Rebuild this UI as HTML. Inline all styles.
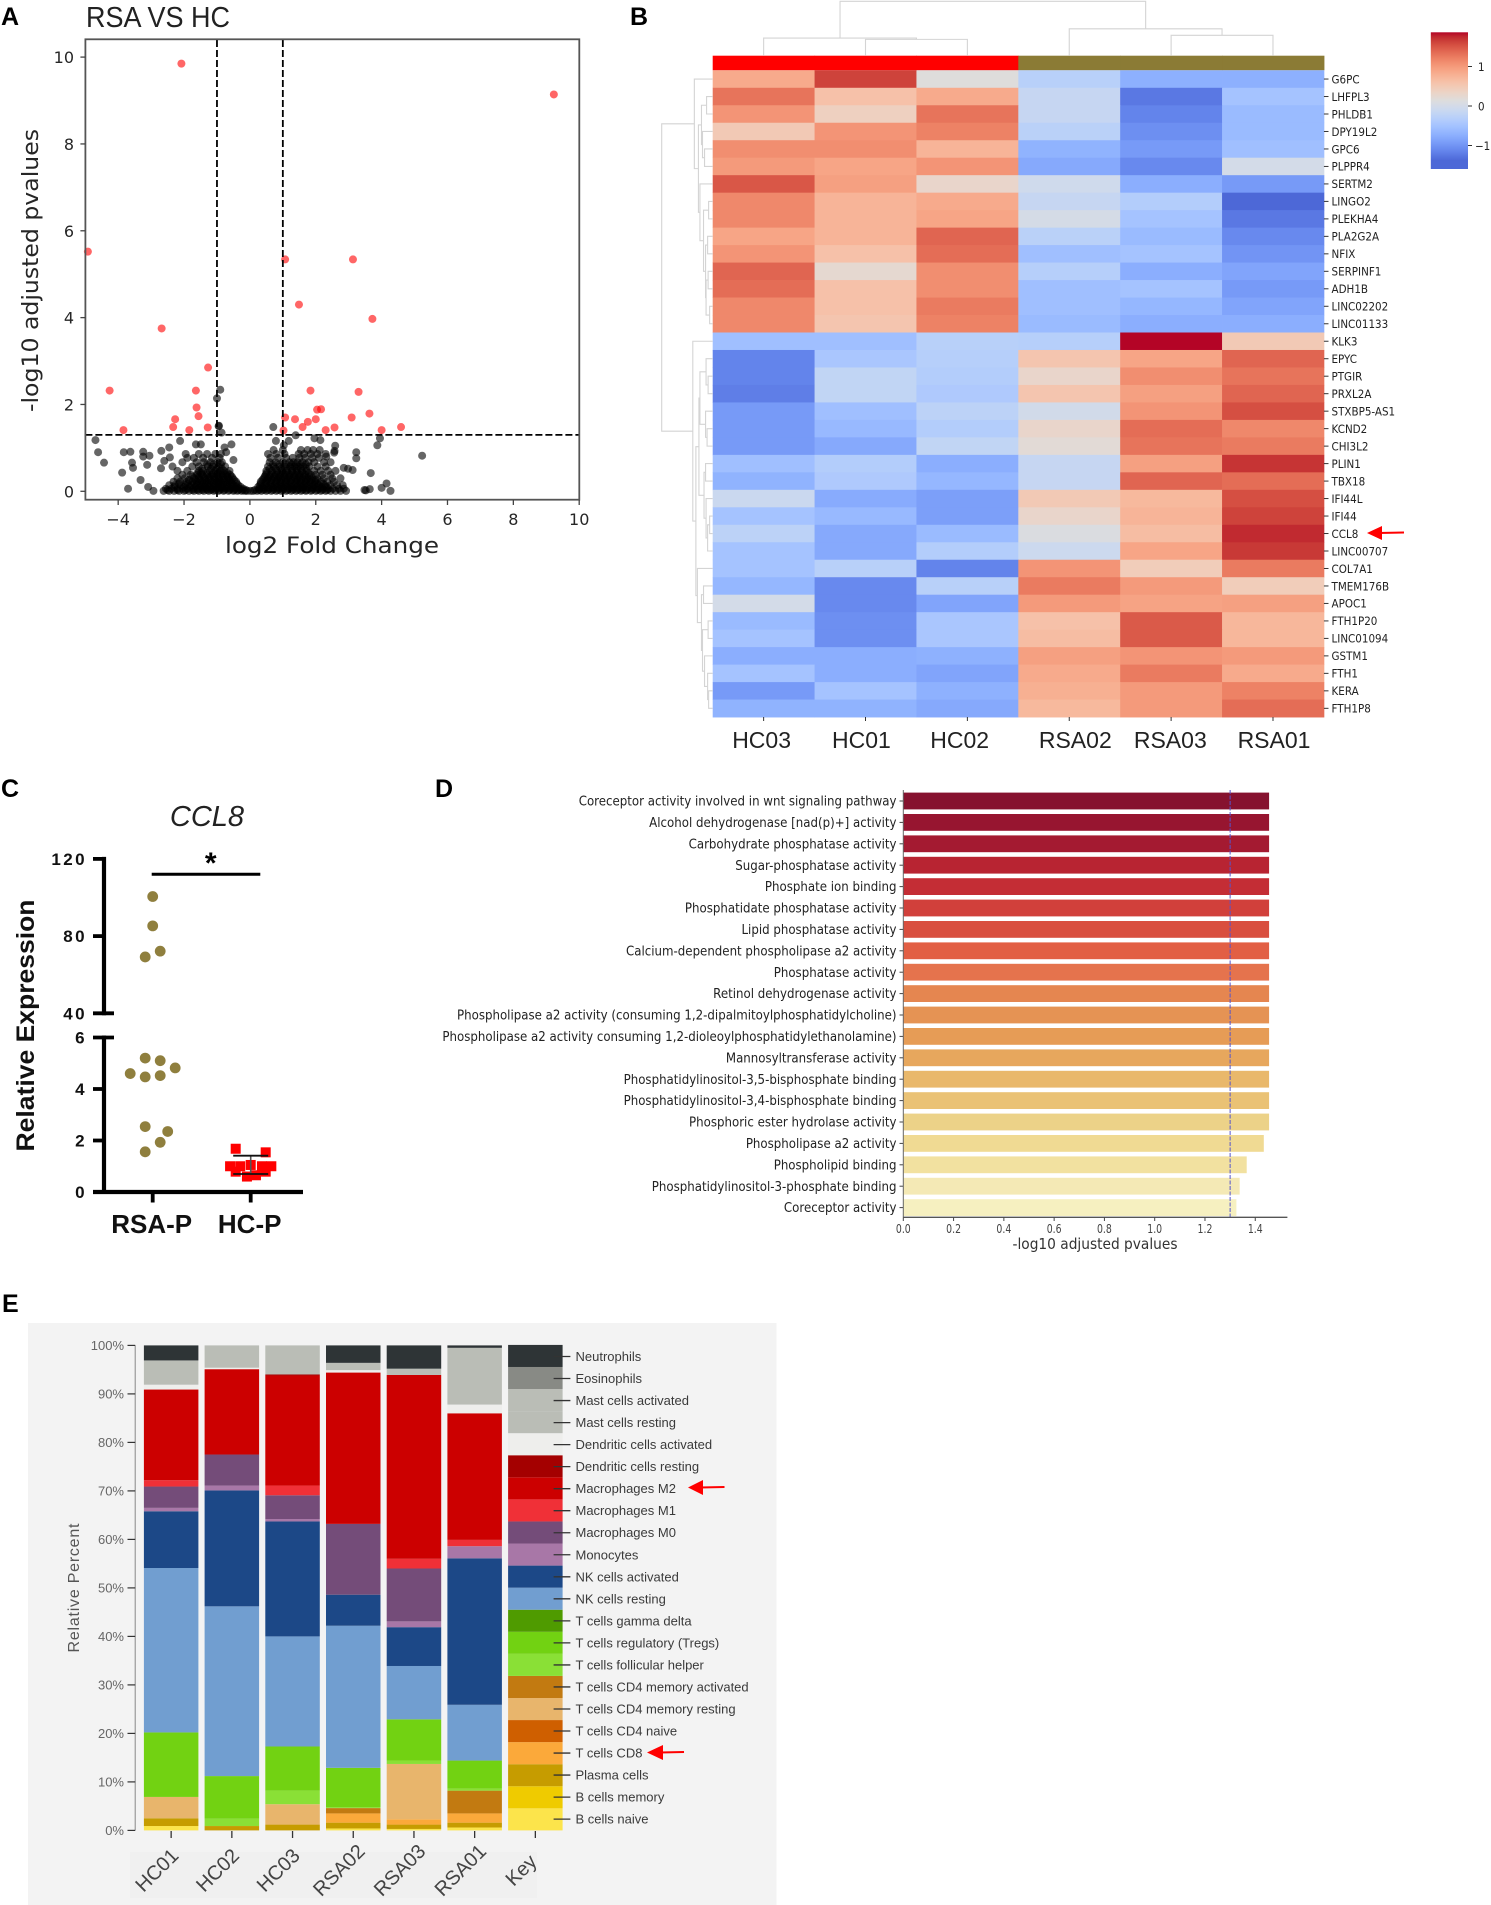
<!DOCTYPE html>
<html lang="en">
<head>
<meta charset="utf-8">
<title>RSA vs HC multi-panel figure</title>
<style>
html,body{margin:0;padding:0;background:#fff;}
svg{display:block;}
text{font-family:"Liberation Sans",sans-serif;}
.dv{font-family:"DejaVu Sans",sans-serif;}
.letter{font-family:"Liberation Sans",sans-serif;font-weight:700;font-size:25px;fill:#000;}
.collabel{font-size:23px;fill:#222;text-anchor:middle;}
</style>
</head>
<body>
<svg id="figure" xmlns="http://www.w3.org/2000/svg" width="1491" height="1905" viewBox="0 0 1491 1905">
  <rect x="0" y="0" width="1491" height="1905" fill="#ffffff"/>

  <!-- Panel A -->
  <g id="panelA">
    <text class="letter" x="1" y="25">A</text>
    <text x="86" y="27" font-size="29" fill="#222" textLength="144" lengthAdjust="spacingAndGlyphs">RSA VS HC</text>
    <text class="dv" x="332" y="553" font-size="22" fill="#262626" text-anchor="middle" textLength="214" lengthAdjust="spacingAndGlyphs">log2 Fold Change</text>
    <text class="dv" transform="translate(38,270.5) rotate(-90)" font-size="22" fill="#262626" text-anchor="middle" textLength="283" lengthAdjust="spacingAndGlyphs">-log10 adjusted pvalues</text>
  </g>

  <!-- Panel B -->
  <g id="panelB">
    <text class="letter" x="630" y="25">B</text>
    <text class="collabel" x="761.6" y="748">HC03</text>
    <text class="collabel" x="861.4" y="748">HC01</text>
    <text class="collabel" x="959.7" y="748">HC02</text>
    <text class="collabel" x="1075.3" y="748">RSA02</text>
    <text class="collabel" x="1170.3" y="748">RSA03</text>
    <text class="collabel" x="1274" y="748">RSA01</text>
    <g>
      <line x1="1378" y1="533" x2="1404" y2="532.5" stroke="#f00" stroke-width="2"/>
      <polygon points="1367,533 1382,526 1382,540" fill="#f00"/>
    </g>
  </g>

  <!-- Panel C -->
  <g id="panelC">
    <text class="letter" x="1" y="797">C</text>
    <text x="207" y="826" font-size="29" font-style="italic" fill="#222" text-anchor="middle">CCL8</text>
    <text transform="translate(34,1025.5) rotate(-90)" font-size="25" font-weight="700" fill="#111" text-anchor="middle" textLength="252" lengthAdjust="spacingAndGlyphs">Relative Expression</text>
    <line x1="151.7" y1="874.3" x2="260.3" y2="874.3" stroke="#000" stroke-width="3"/>
    <text x="210.7" y="873" font-size="30" font-weight="700" fill="#000" text-anchor="middle">*</text>
  </g>

  <!-- Panel D -->
  <g id="panelD">
    <text class="letter" x="435" y="797">D</text>
    <text class="dv" x="1095" y="1249" font-size="15" fill="#333" text-anchor="middle" textLength="165" lengthAdjust="spacingAndGlyphs">-log10 adjusted pvalues</text>
  </g>

  <!-- Panel E -->
  <g id="panelE">
    <text class="letter" x="2" y="1312">E</text>
    <rect x="28" y="1323" width="748.5" height="582" fill="#f3f3f3"/>
    <rect x="130" y="1852" width="407" height="46" fill="#f0f0f0"/>
    <text transform="translate(79,1588) rotate(-90)" font-size="16" fill="#555" text-anchor="middle" textLength="129">Relative Percent</text>
  </g>
  <g>
    <line x1="700" y1="1487.5" x2="724.5" y2="1487" stroke="#f00" stroke-width="2"/>
    <polygon points="688,1487.5 703,1480 703,1495" fill="#f00"/>
  </g>
  <g>
    <line x1="660" y1="1752.5" x2="684" y2="1752" stroke="#f00" stroke-width="2"/>
    <polygon points="647,1752.5 663,1745 663,1760" fill="#f00"/>
  </g>
</svg>

<script>
/* ---------- Panel A data ---------- */
const volcanoXTicks = [-4,-2,0,2,4,6,8,10];
const volcanoYTicks = [0,2,4,6,8,10];
const foldChangeCutoffs = [-1,1];
const pvalueCutoff = 1.3;
const significantPoints = [[-2.08,9.85],[9.23,9.14],[-4.92,5.52],[1.07,5.34],[3.13,5.34],[1.49,4.30],[3.72,3.97],[-2.68,3.75],[-1.27,2.85],[-4.26,2.32],[-1.64,2.32],[1.84,2.32],[3.30,2.29],[-1.62,1.93],[2.04,1.88],[2.16,1.89],[-1.56,1.73],[-2.27,1.66],[1.07,1.70],[1.37,1.66],[2.0,1.66],[3.09,1.70],[3.63,1.79],[1.76,1.60],[1.60,1.48],[2.57,1.47],[2.30,1.41],[4.59,1.48],[4.0,1.41],[-2.33,1.48],[-1.28,1.47],[-1.84,1.41],[-3.84,1.41],[1.02,1.40]];
const sparsePoints = [[-0.9,2.34],[-1.0,2.14],[-0.94,1.51],[-0.95,1.5],[-0.86,1.35],[0.71,1.48],[-4.69,1.18],[-4.61,0.9],[-4.43,0.66],[-3.83,0.9],[-3.63,0.91],[-3.24,0.91],[-3.05,0.82],[-3.24,0.8],[-3.58,0.66],[-3.55,0.54],[-3.88,0.43],[-3.12,0.61],[-3.32,0.26],[-3.7,0.06],[-3.09,0.1],[-2.93,0.01],[-2.69,0.93],[-2.45,1.01],[-2.12,1.16],[-2.43,0.78],[-2.6,0.7],[-2.7,0.53],[-1.64,1.08],[-1.49,1.08],[-0.77,1.01],[-0.56,1.08],[-0.72,0.9],[-0.5,0.72],[5.23,0.82],[3.95,1.22],[3.87,1.06],[3.23,0.9],[3.23,0.76],[3.67,0.42],[4.0,0.08],[4.15,0.18],[4.27,0.01],[3.64,0.05],[3.48,0.03],[3.52,0.02],[3.12,0.49],[2.98,0.52],[2.85,0.54],[2.57,0.93],[2.59,1.05],[2.56,0.89],[2.32,0.8],[2.14,1.18],[1.96,1.22],[1.39,1.29],[1.18,1.16],[1.03,1.06],[0.79,1.16]];
const cloudRowLevels = [0.01,0.03,0.06,0.10,0.14,0.18,0.22,0.26,0.30,0.34,0.38,0.42,0.47,0.52,0.57,0.62,0.67,0.77,0.86,0.95];
const cloudRowFoldChanges = [
 [-2.62,-2.45,-2.3,-2.15,-2.0,-1.85,-1.7,-1.55,-1.4,-1.25,-1.1,-0.95,-0.8,-0.65,-0.5,-0.38,-0.25,-0.15,-0.08,0.02,0.1,0.22,0.35,0.5,0.65,0.8,0.95,1.1,1.25,1.4,1.55,1.7,1.85,2.0,2.15,2.3,2.45,2.6,2.75,2.92],
 [-2.5,-2.2,-1.95,-1.75,-1.6,-1.45,-1.3,-1.18,-1.05,-0.92,-0.78,-0.62,-0.48,-0.35,-0.22,-0.12,0.15,0.28,0.42,0.55,0.7,0.85,1.0,1.15,1.3,1.45,1.6,1.72,1.88,2.05,2.2,2.35],
 [-2.55,-2.38,-2.2,-2.05,-1.9,-1.72,-1.58,-1.42,-1.3,-1.15,-1.0,-0.85,-0.72,-0.58,-0.45,-0.32,-0.2,0.28,0.42,0.58,0.72,0.88,1.02,1.18,1.32,1.48,1.62,1.78,1.92,2.08,2.22,2.38,2.52,2.7,2.85],
 [-2.3,-2.0,-1.82,-1.65,-1.5,-1.38,-1.25,-1.12,-0.98,-0.85,-0.7,-0.55,-0.4,-0.28,0.25,0.38,0.52,0.68,0.82,0.97,1.12,1.27,1.42,1.58,1.72,1.88,2.02,2.18,2.32],
 [-2.45,-2.28,-2.1,-1.95,-1.78,-1.62,-1.48,-1.35,-1.2,-1.05,-0.9,-0.78,-0.62,-0.5,-0.35,0.3,0.45,0.6,0.75,0.9,1.05,1.2,1.35,1.5,1.65,1.8,1.95,2.1,2.28,2.45,2.65,2.82],
 [-2.15,-1.88,-1.7,-1.55,-1.4,-1.25,-1.1,-0.95,-0.82,-0.68,-0.55,-0.4,0.33,0.5,0.66,0.82,0.98,1.12,1.28,1.44,1.58,1.72,1.9,2.05,2.22],
 [-2.32,-2.12,-1.92,-1.75,-1.6,-1.45,-1.3,-1.15,-1,-0.88,-0.72,-0.58,-0.42,0.33,0.48,0.62,0.78,0.92,1.08,1.22,1.38,1.52,1.68,1.82,1.98,2.15,2.35,2.55],
 [-1.85,-1.65,-1.5,-1.35,-1.2,-1.05,-0.92,-0.78,-0.62,-0.48,0.38,0.52,0.66,0.82,0.95,1.1,1.25,1.42,1.55,1.7,1.85,2.0],
 [-2.2,-1.98,-1.7,-1.55,-1.38,-1.25,-1.08,-0.95,-0.8,-0.66,-0.52,0.42,0.55,0.7,0.85,1,1.15,1.3,1.45,1.6,1.75,1.9,2.05,2.25,2.5,2.75],
 [-1.75,-1.55,-1.4,-1.22,-1.1,-0.95,-0.82,-0.68,-0.55,0.45,0.6,0.75,0.9,1.05,1.2,1.35,1.5,1.65,1.8],
 [-2.05,-1.8,-1.6,-1.45,-1.3,-1.15,-1,-0.85,-0.72,-0.6,0.48,0.62,0.78,0.92,1.08,1.22,1.38,1.52,1.68,1.85,2.0,2.2,2.45],
 [-1.6,-1.48,-1.3,-1.12,-0.98,-0.82,-0.68,0.5,0.68,0.85,1.0,1.15,1.3,1.45,1.6,1.78],
 [-2.2,-1.9,-1.55,-1.42,-1.22,-1.05,-0.9,-0.78,-0.62,0.5,0.66,0.82,0.98,1.12,1.28,1.42,1.58,1.72,1.95,2.15,2.38,2.6],
 [-1.45,-1.18,-1.0,-0.85,0.6,0.78,0.95,1.12,1.28,1.42,1.55,1.72],
 [-2.35,-1.75,-1.55,-1.28,-1.12,-0.95,-0.75,0.55,0.72,0.9,1.05,1.22,1.35,1.48,1.62,1.8,2.05,2.3],
 [-1.3,-1.1,-0.88,0.7,0.9,1.1,1.25,1.4,1.55,1.7],
 [-2.05,-1.62,-1.4,-1.2,-0.98,-0.85,0.6,0.78,1.0,1.2,1.32,1.45,1.6,1.78,1.95,2.25,2.45],
 [-1.9,-1.7,-1.42,-1.15,-0.92,0.62,0.85,1.1,1.3,1.5,1.68,1.9,2.1],
 [-1.95,-1.55,-1.3,-1.05,-0.88,0.55,0.8,1.05,1.48,1.65,1.85,2.05,2.3],
 [0.72,1.0,1.55,1.75,1.92,2.12]
];

/* ---------- Panel B data ---------- */
const heatGenes = ['G6PC','LHFPL3','PHLDB1','DPY19L2','GPC6','PLPPR4','SERTM2','LINGO2','PLEKHA4','PLA2G2A','NFIX','SERPINF1','ADH1B','LINC02202','LINC01133','KLK3','EPYC','PTGIR','PRXL2A','STXBP5-AS1','KCND2','CHI3L2','PLIN1','TBX18','IFI44L','IFI44','CCL8','LINC00707','COL7A1','TMEM176B','APOC1','FTH1P20','LINC01094','GSTM1','FTH1','KERA','FTH1P8'];
const heatSamples = ['HC03','HC01','HC02','RSA02','RSA03','RSA01'];
const heatValues = [
 [0.85,1.62,0.15,-0.3,-0.73,-0.73],
 [1.3,0.6,0.85,-0.15,-1.25,-0.5],
 [1.05,0.4,1.3,-0.15,-1.15,-0.6],
 [0.5,1.05,1.2,-0.28,-1.05,-0.6],
 [1.1,1.1,0.75,-0.7,-0.95,-0.55],
 [1.0,0.9,1.05,-0.8,-1.1,0.0],
 [1.5,0.95,0.3,-0.05,-0.75,-0.95],
 [1.15,0.75,0.85,-0.15,-0.35,-1.38],
 [1.15,0.75,0.9,0.02,-0.5,-1.25],
 [0.9,0.75,1.4,-0.28,-0.6,-1.1],
 [1.05,0.6,1.35,-0.55,-0.5,-1.0],
 [1.4,0.25,1.1,-0.32,-0.75,-0.85],
 [1.35,0.6,1.1,-0.55,-0.5,-0.95],
 [1.15,0.6,1.25,-0.55,-0.65,-0.85],
 [1.15,0.55,1.2,-0.6,-0.75,-0.75],
 [-0.55,-0.55,-0.3,-0.32,1.87,0.5],
 [-1.15,-0.45,-0.32,0.55,0.9,1.4],
 [-1.15,-0.2,-0.35,0.3,1.1,1.3],
 [-1.2,-0.2,-0.4,0.55,0.95,1.4],
 [-0.95,-0.55,-0.25,-0.02,1.05,1.55],
 [-0.95,-0.62,-0.35,0.3,1.35,1.15],
 [-0.95,-0.8,-0.2,0.2,1.3,1.25],
 [-0.55,-0.35,-0.75,-0.15,0.95,1.7],
 [-0.7,-0.4,-0.65,-0.15,1.4,1.35],
 [-0.1,-0.78,-0.9,0.5,0.7,1.55],
 [-0.5,-0.62,-0.9,0.3,0.75,1.62],
 [-0.25,-0.8,-0.6,0.1,0.65,1.75],
 [-0.5,-0.8,-0.35,-0.08,0.9,1.68],
 [-0.5,-0.3,-1.15,1.05,0.45,1.25],
 [-0.65,-1.1,-0.3,1.25,1.0,0.45],
 [0.0,-1.1,-0.85,1.0,0.92,0.95],
 [-0.6,-1.05,-0.45,0.6,1.48,0.72],
 [-0.5,-1.05,-0.45,0.65,1.48,0.72],
 [-0.75,-0.75,-0.72,0.95,1.05,1.0],
 [-0.5,-0.75,-0.85,0.85,1.25,0.85],
 [-0.95,-0.5,-0.72,0.8,1.0,1.2],
 [-0.7,-0.7,-0.8,0.7,1.0,1.35]
];
const colorbarTicks = [-1,0,1];
const colorbarTickLabels = ['\u22121','0','1'];
const sampleGroups = ['#ff0000','#ff0000','#ff0000','#8b7b35','#8b7b35','#8b7b35'];
/* Dendrograms: [merge height, childA, childB]; numbers are leaf indices */
const columnTree = [1,[0.325,0,[0.30,1,2]],[0.495,3,[0.375,4,5]]];
const rowTree = [1,
 [0.36,0,[0.28,[0.22,[0.12,1,2],[0.2,3,[0.16,4,5]]],[0.25,6,[0.18,[0.08,7,8],[0.14,[0.1,9,10],[0.13,[0.09,11,12],[0.06,13,14]]]]]]],
 [0.39,15,[0.33,[0.27,[0.25,[0.13,16,[0.09,17,18]],[0.14,19,[0.11,20,21]]],[0.17,[0.14,22,23],[0.13,24,[0.1,[0.06,25,26],27]]]],[0.3,28,[0.22,[0.18,29,30],[0.2,[0.09,31,32],[0.16,33,[0.1,34,[0.08,35,36]]]]]]]]
];
const coolwarmStops = [[59,76,192],[68,90,204],[77,104,215],[87,117,225],[98,130,234],[108,142,241],[119,154,247],[130,165,251],[141,176,254],[152,185,255],[163,194,255],[174,201,253],[184,208,249],[194,213,244],[204,217,238],[213,219,230],[221,221,221],[229,216,209],[236,211,197],[241,204,185],[245,196,173],[247,187,160],[247,177,148],[247,166,135],[244,154,123],[241,141,111],[236,127,99],[229,112,88],[222,96,77],[213,80,66],[203,62,56],[192,40,47],[180,4,38]];

/* ---------- Panel C data ---------- */
const expressionTicks = [0,2,4,6,40,80,120];
const rsaExpression = [100.5,85.3,72.2,69.2,5.2,5.1,4.82,4.6,4.47,4.52,2.54,2.35,1.93,1.56];
const rsaJitter = [0,0,1,-1,-1,1,3,-3,-1,1,-1,2,1,-1];
const hcExpression = [1.68,1.54,1.0,1.0,1.05,1.0,1.0,0.79,0.79,0.6,0.65];
const hcJitter = [-2,2,-2.75,-1.4,0,1.5,2.75,-2,2,-0.5,0.7];
const hcErrorBar = [0.7,1.41];
const expressionGroups = ['RSA-P','HC-P'];

/* ---------- Panel D data ---------- */
const termNames = ['Coreceptor activity involved in wnt signaling pathway','Alcohol dehydrogenase [nad(p)+] activity','Carbohydrate phosphatase activity','Sugar-phosphatase activity','Phosphate ion binding','Phosphatidate phosphatase activity','Lipid phosphatase activity','Calcium-dependent phospholipase a2 activity','Phosphatase activity','Retinol dehydrogenase activity','Phospholipase a2 activity (consuming 1,2-dipalmitoylphosphatidylcholine)','Phospholipase a2 activity consuming 1,2-dioleoylphosphatidylethanolamine)','Mannosyltransferase activity','Phosphatidylinositol-3,5-bisphosphate binding','Phosphatidylinositol-3,4-bisphosphate binding','Phosphoric ester hydrolase activity','Phospholipase a2 activity','Phospholipid binding','Phosphatidylinositol-3-phosphate binding','Coreceptor activity'];
const termValues = [1.455,1.455,1.455,1.455,1.455,1.455,1.455,1.455,1.455,1.455,1.455,1.455,1.455,1.455,1.455,1.455,1.434,1.366,1.338,1.325];
const termColors = ['#86122f','#971530','#a41a31','#b82432','#c42d35','#d1403b','#d94f3f','#e25f44','#e5734d','#e58650','#e59354','#e69c56','#e7a75d','#e9b86b','#eac275','#ecd288','#f0da93','#f2e1a0','#f4e9b5','#f6f0c0'];
const termTicks = [0,0.2,0.4,0.6,0.8,1.0,1.2,1.4];
const termCutoff = 1.3;

/* ---------- Panel E data ---------- */
const cellTypes = ['B cells naive','B cells memory','Plasma cells','T cells CD8','T cells CD4 naive','T cells CD4 memory resting','T cells CD4 memory activated','T cells follicular helper','T cells regulatory (Tregs)','T cells gamma delta','NK cells resting','NK cells activated','Monocytes','Macrophages M0','Macrophages M1','Macrophages M2','Dendritic cells resting','Dendritic cells activated','Mast cells resting','Mast cells activated','Eosinophils','Neutrophils'];
const cellColors = ['#fce44b','#efcb00','#c69c00','#fba93a','#cf5f00','#e8b56c','#c27a11','#8ae036','#72d212','#4f9b00','#719ed0','#1c4887','#a877a7','#744c79','#f03037','#cc0000','#a40000','#eeeeec','#babdb6','#babdb6','#888a85','#2e3436'];
const stackSamples = ['HC01','HC02','HC03','RSA02','RSA03','RSA01','Key'];
const fractionHC01 = [0.9,0,1.6,0,0,4.4,0,0,13.3,0,33.9,11.7,0.7,4.4,1.3,18.7,0,1.0,5.0,0,0,3.1];
const fractionHC02 = [0,0,0.9,0,0,0,0,1.5,8.8,0,35,23.9,1.0,6.4,0,17.6,0,0.3,4.6,0,0,0];
const fractionHC03 = [0,0,1.2,0,0,4.2,0,2.8,9.1,0,22.7,23.7,0.5,4.9,2.0,22.7,0.2,0,6.0,0,0,0];
const fractionRSA02 = [0.4,0,1.2,1.9,0,0,1.1,0.2,8.1,0,29.3,6.4,0,14.6,0,31.2,0,0.5,1.5,0,0,3.6];
const fractionRSA03 = [0.3,0,0.9,1.1,0,11.4,0,0.7,8.5,0,11,8,1.2,10.9,2.0,37.9,0,0,1.3,0,0,4.8];
const fractionRSA01 = [0.6,0,1.0,1.9,0,0,4.7,0.4,5.8,0,11.5,30.2,2.5,0,1.3,26.1,0,1.8,11.7,0,0,0.5];
const fractionKey = [4.55,4.55,4.55,4.55,4.55,4.55,4.55,4.55,4.55,4.55,4.55,4.55,4.55,4.55,4.55,4.55,4.55,4.55,4.55,4.55,4.55,4.55];
const percentTicks = [0,10,20,30,40,50,60,70,80,90,100];

/* ---------- Helpers ---------- */
const NS = 'http://www.w3.org/2000/svg';
function mk(parent, tag, attrs, text) {
  const el = document.createElementNS(NS, tag);
  for (const k in attrs) el.setAttribute(k, attrs[k]);
  if (text !== undefined) el.textContent = text;
  parent.appendChild(el);
  return el;
}
const svg = document.getElementById('figure');
const pA = document.getElementById('panelA');
const pB = document.getElementById('panelB');
const pC = document.getElementById('panelC');
const pD = document.getElementById('panelD');
const pE = document.getElementById('panelE');
const DV = '"DejaVu Sans",sans-serif';

/* ---------- Panel A ---------- */
const xA = v => 249.9 + v * 32.93;
const yA = v => 491.3 - v * 43.42;
sparsePoints.forEach(p => {
  const dot = mk(pA, 'circle', {cx: xA(p[0]), cy: yA(p[1]), r: 4, fill: '#000', 'fill-opacity': 0.6});
  
  
});
cloudRowLevels.forEach((level, r) => {
  cloudRowFoldChanges[r].forEach(fc => {
    const dot = mk(pA, 'circle', {cx: xA(fc), cy: yA(level), r: 4, fill: '#000', 'fill-opacity': 0.6});
    
    
  });
});
significantPoints.forEach(p => {
  const dot = mk(pA, 'circle', {cx: xA(p[0]), cy: yA(p[1]), r: 4, fill: '#ff0000', 'fill-opacity': 0.6});
  
  
});
foldChangeCutoffs.forEach(c => {
  const cutLine = mk(pA, 'line', {x1: xA(c), x2: xA(c), y1: 40, y2: 500, stroke: '#000', 'stroke-width': 1.8, 'stroke-dasharray': '7 3'});
  
  
});
const pLine = mk(pA, 'line', {x1: 85.4, x2: 579.3, y1: yA(pvalueCutoff), y2: yA(pvalueCutoff), stroke: '#000', 'stroke-width': 1.8, 'stroke-dasharray': '7 3'});


const frameA = mk(pA, 'rect', {x: 85.4, y: 39.3, width: 493.9, height: 460.4, fill: 'none', stroke: '#555', 'stroke-width': 1.8});


volcanoXTicks.forEach(t => {
  const tick = mk(pA, 'line', {x1: xA(t), x2: xA(t), y1: 500, y2: 505, stroke: '#444', 'stroke-width': 1.3});
  
  
  const label = mk(pA, 'text', {x: xA(t), y: 525, 'font-size': 16, fill: '#262626', 'text-anchor': 'middle', style: 'font-family:' + DV}, String(t).replace('-', '\u2212'));
  
  
});
volcanoYTicks.forEach(t => {
  const tick = mk(pA, 'line', {x1: 80.4, x2: 85.4, y1: yA(t), y2: yA(t), stroke: '#444', 'stroke-width': 1.3});
  
  
  const label = mk(pA, 'text', {x: 74, y: yA(t) + 6, 'font-size': 16, fill: '#262626', 'text-anchor': 'end', style: 'font-family:' + DV}, String(t));
  
  
});

/* ---------- Panel B ---------- */
const heatLeft = 712.7, cellW = 101.87, heatTop = 70.3, cellH = 17.48;
const xH = i => heatLeft + i * cellW;
const yH = i => heatTop + i * cellH;
const coolwarm = z => {
  const t = Math.max(0, Math.min(1, (z + 1.6) / 3.47)) * (coolwarmStops.length - 1);
  const i = Math.min(Math.floor(t), coolwarmStops.length - 2), f = t - i;
  const c = coolwarmStops[i].map((v, k) => Math.round(v + (coolwarmStops[i + 1][k] - v) * f));
  return 'rgb(' + c.join(',') + ')';
};
sampleGroups.forEach((color, i) => {
  const strip = mk(pB, 'rect', {x: xH(i), y: 55.7, width: cellW + 0.5, height: 14.6, fill: color});
  
  
});
heatValues.forEach((row, r) => {
  row.forEach((z, c) => {
    const cell = mk(pB, 'rect', {x: xH(c), y: yH(r), width: cellW + 0.4, height: cellH + 0.4, fill: coolwarm(z)});
    
    
  });
  const tick = mk(pB, 'line', {x1: 1323.9, x2: 1328.5, y1: yH(r) + cellH / 2, y2: yH(r) + cellH / 2, stroke: '#333', 'stroke-width': 1});
  
  
  const label = mk(pB, 'text', {transform: 'translate(1331.5,' + (yH(r) + cellH / 2 + 4.3) + ') scale(0.9,1)', 'font-size': 11.5, fill: '#222', style: 'font-family:' + DV}, heatGenes[r]);
  
  
});
heatSamples.forEach((s, i) => {
  const tick = mk(pB, 'line', {x1: xH(i) + cellW / 2, x2: xH(i) + cellW / 2, y1: 717, y2: 721, stroke: '#333', 'stroke-width': 1});
  
  
});
function drawTree(node, horizontal, leafPos, heightPos) {
  if (typeof node === 'number') return {p: leafPos(node), h: 0};
  const a = drawTree(node[1], horizontal, leafPos, heightPos);
  const b = drawTree(node[2], horizontal, leafPos, heightPos);
  const hN = heightPos(node[0]), hA = heightPos(a.h), hB = heightPos(b.h);
  const d = horizontal
    ? 'M' + a.p + ' ' + hA + 'V' + hN + 'H' + b.p + 'V' + hB
    : 'M' + hA + ' ' + a.p + 'H' + hN + 'V' + b.p + 'H' + hB;
  const link = mk(pB, 'path', {d: d, fill: 'none', stroke: '#d4d4d4', 'stroke-width': 1.1});
  
  
  return {p: (a.p + b.p) / 2, h: node[0]};
}
drawTree(columnTree, true, i => xH(i) + cellW / 2, h => 55.7 - h * 54.4);
drawTree(rowTree, false, i => yH(i) + cellH / 2, h => 712.7 - h * 51);
const cbar = mk(svg, 'linearGradient', {id: 'coolwarmGradient', x1: 0, y1: 1, x2: 0, y2: 0});


coolwarmStops.forEach((c, i) => {
  const shown = i < 2 ? coolwarmStops[2] : c;
  const stop = mk(cbar, 'stop', {offset: i / (coolwarmStops.length - 1), 'stop-color': 'rgb(' + shown.join(',') + ')'});
  
  
});
const cbarRect = mk(pB, 'rect', {x: 1430.8, y: 32.3, width: 37.2, height: 136.7, fill: 'url(#coolwarmGradient)'});


const yCb = v => 106 - v * 39.5;
colorbarTicks.forEach((t, i) => {
  const tick = mk(pB, 'line', {x1: 1468, x2: 1472, y1: yCb(t), y2: yCb(t), stroke: '#333', 'stroke-width': 1});
  
  
  const label = mk(pB, 'text', {transform: 'translate(' + (t < 0 ? 1475 : 1478) + ',' + (yCb(t) + 4.5) + ') scale(0.9,1)', 'font-size': 11.5, fill: '#222', style: 'font-family:' + DV}, colorbarTickLabels[i]);
  
  
});

/* ---------- Panel C ---------- */
const yC = v => v <= 6 ? 1192 - v * 25.75 : 1013.3 - (v - 40) * 1.93;
const xC = [152.7, 250.7];
const JIT = 7.5;
const axisSegments = [[120, 40], [6, 0]];
axisSegments.forEach(seg => {
  const axis = mk(pC, 'line', {x1: 104, x2: 104, y1: yC(seg[0]) - 2, y2: yC(seg[1]) + 2, stroke: '#000', 'stroke-width': 4.2});
  
  
});
const baseC = mk(pC, 'line', {x1: 93, x2: 303, y1: yC(0), y2: yC(0), stroke: '#000', 'stroke-width': 4.2});


expressionTicks.forEach(t => {
  const brk = t === 6 || t === 40;
  const tick = mk(pC, 'line', {x1: 93, x2: brk ? 114 : 104, y1: yC(t), y2: yC(t), stroke: '#000', 'stroke-width': 3.8});
  
  
  const label = mk(pC, 'text', {x: 87, y: yC(t) + 6, 'font-size': 17, 'font-weight': 700, fill: '#111', 'text-anchor': 'end', 'letter-spacing': 2.4}, String(t));
  
  
});
expressionGroups.forEach((g, i) => {
  const tick = mk(pC, 'line', {x1: xC[i], x2: xC[i], y1: yC(0), y2: 1202.5, stroke: '#000', 'stroke-width': 3.8});
  
  
  const label = mk(pC, 'text', {x: xC[i] - 1, y: 1233, 'font-size': 26, 'font-weight': 700, fill: '#111', 'text-anchor': 'middle'}, g);
  
  
});
rsaExpression.forEach((v, i) => {
  const dot = mk(pC, 'circle', {cx: xC[0] + rsaJitter[i] * JIT, cy: yC(v), r: 5.4, fill: '#8f7f3e'});
  
  
});
hcExpression.forEach((v, i) => {
  const sq = mk(pC, 'rect', {x: xC[1] + hcJitter[i] * JIT - 5, y: yC(v) - 5, width: 10, height: 10, fill: '#ff0000'});
  
  
});
const errStem = mk(pC, 'line', {x1: xC[1], x2: xC[1], y1: yC(hcErrorBar[0]), y2: yC(hcErrorBar[1]), stroke: '#555', 'stroke-width': 1.6});


hcErrorBar.forEach(v => {
  const cap = mk(pC, 'line', {x1: xC[1] - 17.5, x2: xC[1] + 17.5, y1: yC(v), y2: yC(v), stroke: '#111', 'stroke-width': 1.8});
  
  
});

/* ---------- Panel D ---------- */
const xD = v => 903.3 + v * 251.4;
const yD = i => 801 + i * 21.4;
termValues.forEach((v, i) => {
  const bar = mk(pD, 'rect', {x: xD(0), y: yD(i) - 8.4, width: xD(v) - xD(0), height: 16.8, fill: termColors[i]});
  
  
  const tick = mk(pD, 'line', {x1: 899.5, x2: 903.3, y1: yD(i), y2: yD(i), stroke: '#444', 'stroke-width': 1});
  
  
  const label = mk(pD, 'text', {transform: 'translate(896.5,' + (yD(i) + 4.6) + ') scale(0.91,1)', 'font-size': 13, fill: '#222', 'text-anchor': 'end', style: 'font-family:' + DV}, termNames[i]);
  
  
});
const cutD = mk(pD, 'line', {x1: xD(termCutoff), x2: xD(termCutoff), y1: 790, y2: 1217, stroke: '#5555cc', 'stroke-width': 1, 'stroke-dasharray': '4 1.5'});


const axDy = mk(pD, 'line', {x1: xD(0), x2: xD(0), y1: 790, y2: 1217.3, stroke: '#666', 'stroke-width': 1});


const axDx = mk(pD, 'line', {x1: xD(0), x2: 1287.4, y1: 1217.3, y2: 1217.3, stroke: '#555', 'stroke-width': 1.3});


termTicks.forEach(t => {
  const tick = mk(pD, 'line', {x1: xD(t), x2: xD(t), y1: 1217.3, y2: 1221, stroke: '#444', 'stroke-width': 1});
  
  
  const label = mk(pD, 'text', {transform: 'translate(' + xD(t) + ',1233) scale(0.78,1)', 'font-size': 12, fill: '#444', 'text-anchor': 'middle', style: 'font-family:' + DV}, t.toFixed(1));
  
  
});

/* ---------- Panel E ---------- */
const yE = v => 1830.4 - v * 4.85;
const xE = i => 143.9 + i * 60.7;
const barWidthE = 54.5;
const stackData = [fractionHC01, fractionHC02, fractionHC03, fractionRSA02, fractionRSA03, fractionRSA01, fractionKey];
stackData.forEach((fractions, s) => {
  let total = 0;
  fractions.forEach((v, c) => {
    if (v > 0) {
      const seg = mk(pE, 'rect', {x: xE(s), y: yE(total + v), width: barWidthE, height: yE(total) - yE(total + v), fill: cellColors[c]});
      
      
    }
    total += v;
  });
  const tick = mk(pE, 'line', {x1: xE(s) + barWidthE / 2, x2: xE(s) + barWidthE / 2, y1: 1831, y2: 1838, stroke: '#333', 'stroke-width': 1.3});
  
  
  const label = mk(pE, 'text', {transform: 'translate(' + (xE(s) + barWidthE / 2 - 14.5) + ',1870) rotate(-45)', dy: '0.35em', 'font-size': 20, fill: '#444', 'text-anchor': 'middle'}, stackSamples[s]);
  
  
});
const axE = mk(pE, 'line', {x1: 135.2, x2: 135.2, y1: yE(100), y2: yE(0), stroke: '#888', 'stroke-width': 1});


percentTicks.forEach(t => {
  const tick = mk(pE, 'line', {x1: 127.5, x2: 135.2, y1: yE(t), y2: yE(t), stroke: '#333', 'stroke-width': 1.2});
  
  
  const label = mk(pE, 'text', {x: 124, y: yE(t) + 4.5, 'font-size': 13, fill: '#666', 'text-anchor': 'end'}, t + '%');
  
  
});
cellTypes.forEach((name, i) => {
  const row = cellTypes.length - 1 - i;
  const ly = 1356.5 + row * 22.03;
  const lead = mk(pE, 'line', {x1: 553.6, x2: 570.4, y1: ly, y2: ly, stroke: '#333', 'stroke-width': 1.3});
  
  
  const label = mk(pE, 'text', {x: 575.5, y: ly + 4.5, 'font-size': 13, fill: '#3a3a3a'}, name);
  
  
});
</script>
</body>
</html>
